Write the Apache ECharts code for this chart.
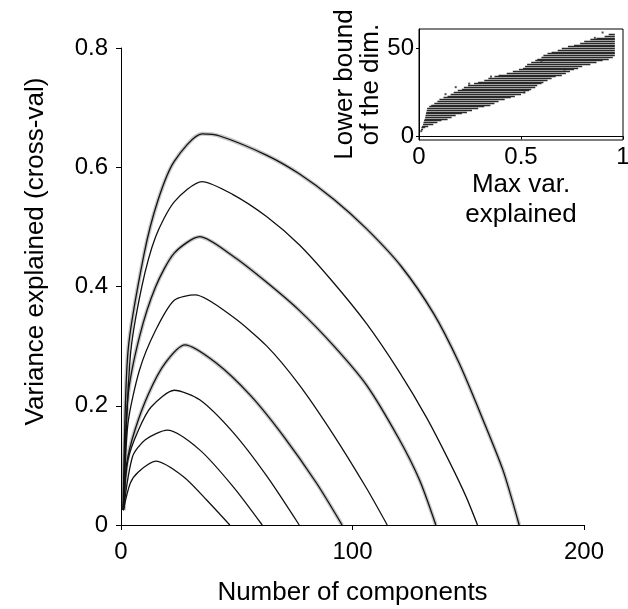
<!DOCTYPE html>
<html>
<head>
<meta charset="utf-8">
<script src="https://cdn.jsdelivr.net/npm/echarts@6/dist/echarts.min.js"></script>
<style>
  html, body { margin: 0; padding: 0; background: #fff; }
  #chart { width: 628px; height: 609px; }
</style>
</head>
<body>
<div id="chart"></div>
<script>
// main panel: variance explained vs number of components, one curve per level
var curve1 = [[1,0.025],[3,0.29],[10,0.455],[16,0.545],[23,0.61],[35,0.656],[43,0.652],[63,0.62],[77,0.589],[92,0.546],[106,0.497],[121,0.434],[135,0.355],[146,0.272],[156,0.18],[165,0.092],[172,0]];
var curve2 = [[1,0.025],[4,0.282],[9,0.4],[15,0.484],[23,0.542],[35,0.576],[48,0.555],[63,0.517],[77,0.47],[91,0.41],[106,0.338],[120,0.258],[132,0.18],[142,0.105],[149,0.048],[154,0]];
var curve3 = [[1,0.025],[3,0.215],[8,0.316],[15,0.4],[23,0.456],[34,0.4835],[48,0.452],[62,0.41],[77,0.36],[92,0.3],[106,0.235],[120,0.145],[129,0.075],[136,0]];
var curve4 = [[1,0.025],[3,0.17],[8,0.26],[15,0.327],[23,0.377],[32,0.386],[48,0.35],[63,0.3],[77,0.235],[92,0.15],[106,0.062],[115,0]];
var curve5 = [[1,0.025],[2.5,0.104],[6,0.159],[12,0.221],[19,0.271],[27.6,0.302],[41,0.272],[56,0.217],[70,0.15],[84.5,0.07],[95.5,0]];
var curve6 = [[1,0.025],[3,0.109],[7.5,0.159],[13,0.198],[23,0.226],[34,0.21],[48.5,0.155],[63,0.082],[77,0]];
var curve7 = [[1,0.025],[5,0.115],[10.5,0.143],[20,0.159],[34,0.126],[48.5,0.064],[61,0]];
var curve8 = [[1,0.025],[4,0.07],[7.5,0.089],[15,0.107],[27,0.081],[37,0.042],[47,0]];
var curves = [curve1, curve2, curve3, curve4, curve5, curve6, curve7, curve8];
var haloCurves = [0, 2, 4]; // the ones with a visible grey band

var xTicksMain = [0, 100, 200];
var yTicksMain = [0, 0.2, 0.4, 0.6, 0.8];

// inset: lower bound of the dimension vs max variance explained
// each row: [dimension, first x, last x] of the dots on that row
var dimRows = [
  [4,0.01,0.02],[5,0.012,0.03],[6,0.015,0.045],[7,0.02,0.07],[8,0.022,0.09],
  [9,0.025,0.11],[10,0.028,0.14],[11,0.03,0.16],[12,0.032,0.18],[13,0.034,0.21],
  [14,0.036,0.235],[15,0.038,0.26],[16,0.04,0.29],[17,0.05,0.32],[18,0.06,0.35],
  [19,0.075,0.37],[20,0.09,0.39],[21,0.10,0.42],[22,0.12,0.45],[23,0.14,0.47],
  [24,0.155,0.50],[25,0.17,0.52],[26,0.19,0.54],[27,0.21,0.55],[28,0.22,0.57],
  [29,0.24,0.58],[30,0.27,0.60],[31,0.29,0.61],[32,0.32,0.63],[33,0.34,0.65],
  [34,0.37,0.67],[35,0.39,0.70],[36,0.43,0.72],[37,0.46,0.74],[38,0.49,0.76],
  [39,0.51,0.78],[40,0.52,0.80],[41,0.53,0.84],[42,0.55,0.87],[43,0.57,0.90],
  [44,0.58,0.93],[45,0.60,0.95],[46,0.61,0.96],[47,0.63,0.96],[48,0.65,0.96],
  [49,0.68,0.96],[50,0.70,0.96],[51,0.73,0.96],[52,0.76,0.96],[53,0.79,0.96],
  [54,0.81,0.96],[55,0.84,0.96],[56,0.87,0.96],[57,0.91,0.96],[58,0.93,0.96]
];
var dimOutliers = [[0.011,3],[0.18,28],[0.246,30],[0.353,34],[0.517,25],[0.714,38],[0.862,56],[0.13,24],[0.6,43],[0.9,59]];
var insetXTicks = [0, 0.5, 1];
var insetYTicks = [0, 50];

var font = "Liberation Sans, Arial, sans-serif";

var series = [];
curves.forEach(function (c, i) {
  if (haloCurves.indexOf(i) >= 0) {
    series.push({
      type: "line", data: c, showSymbol: false, smooth: 0.25, silent: true,
      lineStyle: { color: "rgba(0,0,0,0.22)", width: 4 }, z: 1
    });
  }
  series.push({
    type: "line", data: c, showSymbol: false, smooth: 0.25,
    lineStyle: { color: "#111", width: 1.3 }, z: 2
  });
});

series.push({
  type: "lines",
  coordinateSystem: "cartesian2d",
  xAxisIndex: 1,
  yAxisIndex: 1,
  silent: true,
  lineStyle: { color: "#2a2a2a", width: 1.4, opacity: 1 },
  data: dimRows.map(function (r) {
    return { coords: [[r[1], r[0]], [r[2], r[0]]] };
  })
});
series.push({
  type: "scatter", xAxisIndex: 1, yAxisIndex: 1,
  symbol: "rect", symbolSize: 2,
  itemStyle: { color: "#222" },
  data: dimOutliers
});

var myChart = echarts.init(document.getElementById("chart"));
myChart.setOption({
  animation: false,
  backgroundColor: "#fff",
  grid: [
    { left: 121, right: 44, top: 48, bottom: 84, outerBoundsMode: "none" },
    { left: 419, right: 5, top: 29, bottom: 469, show: true, borderColor: "#000", borderWidth: 1, outerBoundsMode: "none" }
  ],
  xAxis: [
    {
      type: "value", gridIndex: 0, min: 0, max: 200, interval: 100,
      name: "Number of components", nameLocation: "middle", nameGap: 55,
      nameTextStyle: { fontFamily: font, fontSize: 26, color: "#000" },
      axisLine: { show: true, lineStyle: { color: "#000", width: 1 } },
      axisTick: { show: true, inside: false, length: 5, lineStyle: { color: "#000" } },
      axisLabel: { fontFamily: font, fontSize: 24, color: "#000", margin: 15, customValues: xTicksMain },
      splitLine: { show: false }
    },
    {
      type: "value", gridIndex: 1, min: 0, max: 1, interval: 0.5,
      name: "Max var.\nexplained", nameLocation: "middle", nameGap: 30,
      nameTextStyle: { fontFamily: font, fontSize: 26, color: "#000", lineHeight: 30 },
      axisLine: { show: true, lineStyle: { color: "#000", width: 1 } },
      axisTick: { show: true, length: 3, lineStyle: { color: "#000" }, customValues: insetXTicks },
      axisLabel: { fontFamily: font, fontSize: 24, color: "#000", margin: 5, customValues: insetXTicks,
        formatter: function (v) { return String(v); } },
      splitLine: { show: false }
    }
  ],
  yAxis: [
    {
      type: "value", gridIndex: 0, min: 0, max: 0.8, interval: 0.2,
      name: "Variance explained (cross-val)", nameLocation: "middle", nameGap: 72,
      nameTextStyle: { fontFamily: font, fontSize: 26, color: "#000", padding: [0, 0, 0, 70] },
      axisLine: { show: true, lineStyle: { color: "#000", width: 1 } },
      axisTick: { show: true, length: 5, lineStyle: { color: "#000" } },
      axisLabel: { fontFamily: font, fontSize: 24, color: "#000", margin: 13,
        customValues: yTicksMain,
        formatter: function (v) { return v === 0 ? "0" : v.toFixed(1); } },
      splitLine: { show: false }
    },
    {
      type: "value", gridIndex: 1, min: -2, max: 61,
      name: "Lower bound\nof the dim.", nameLocation: "middle", nameGap: 34,
      nameTextStyle: { fontFamily: font, fontSize: 26, color: "#000", lineHeight: 26 },
      axisLine: { show: true, lineStyle: { color: "#000", width: 1 } },
      axisTick: { show: true, length: 3, lineStyle: { color: "#000" }, customValues: insetYTicks },
      axisLabel: { fontFamily: font, fontSize: 24, color: "#000", margin: 5, customValues: insetYTicks },
      splitLine: { show: false }
    }
  ],
  series: series
});
</script>
</body>
</html>
